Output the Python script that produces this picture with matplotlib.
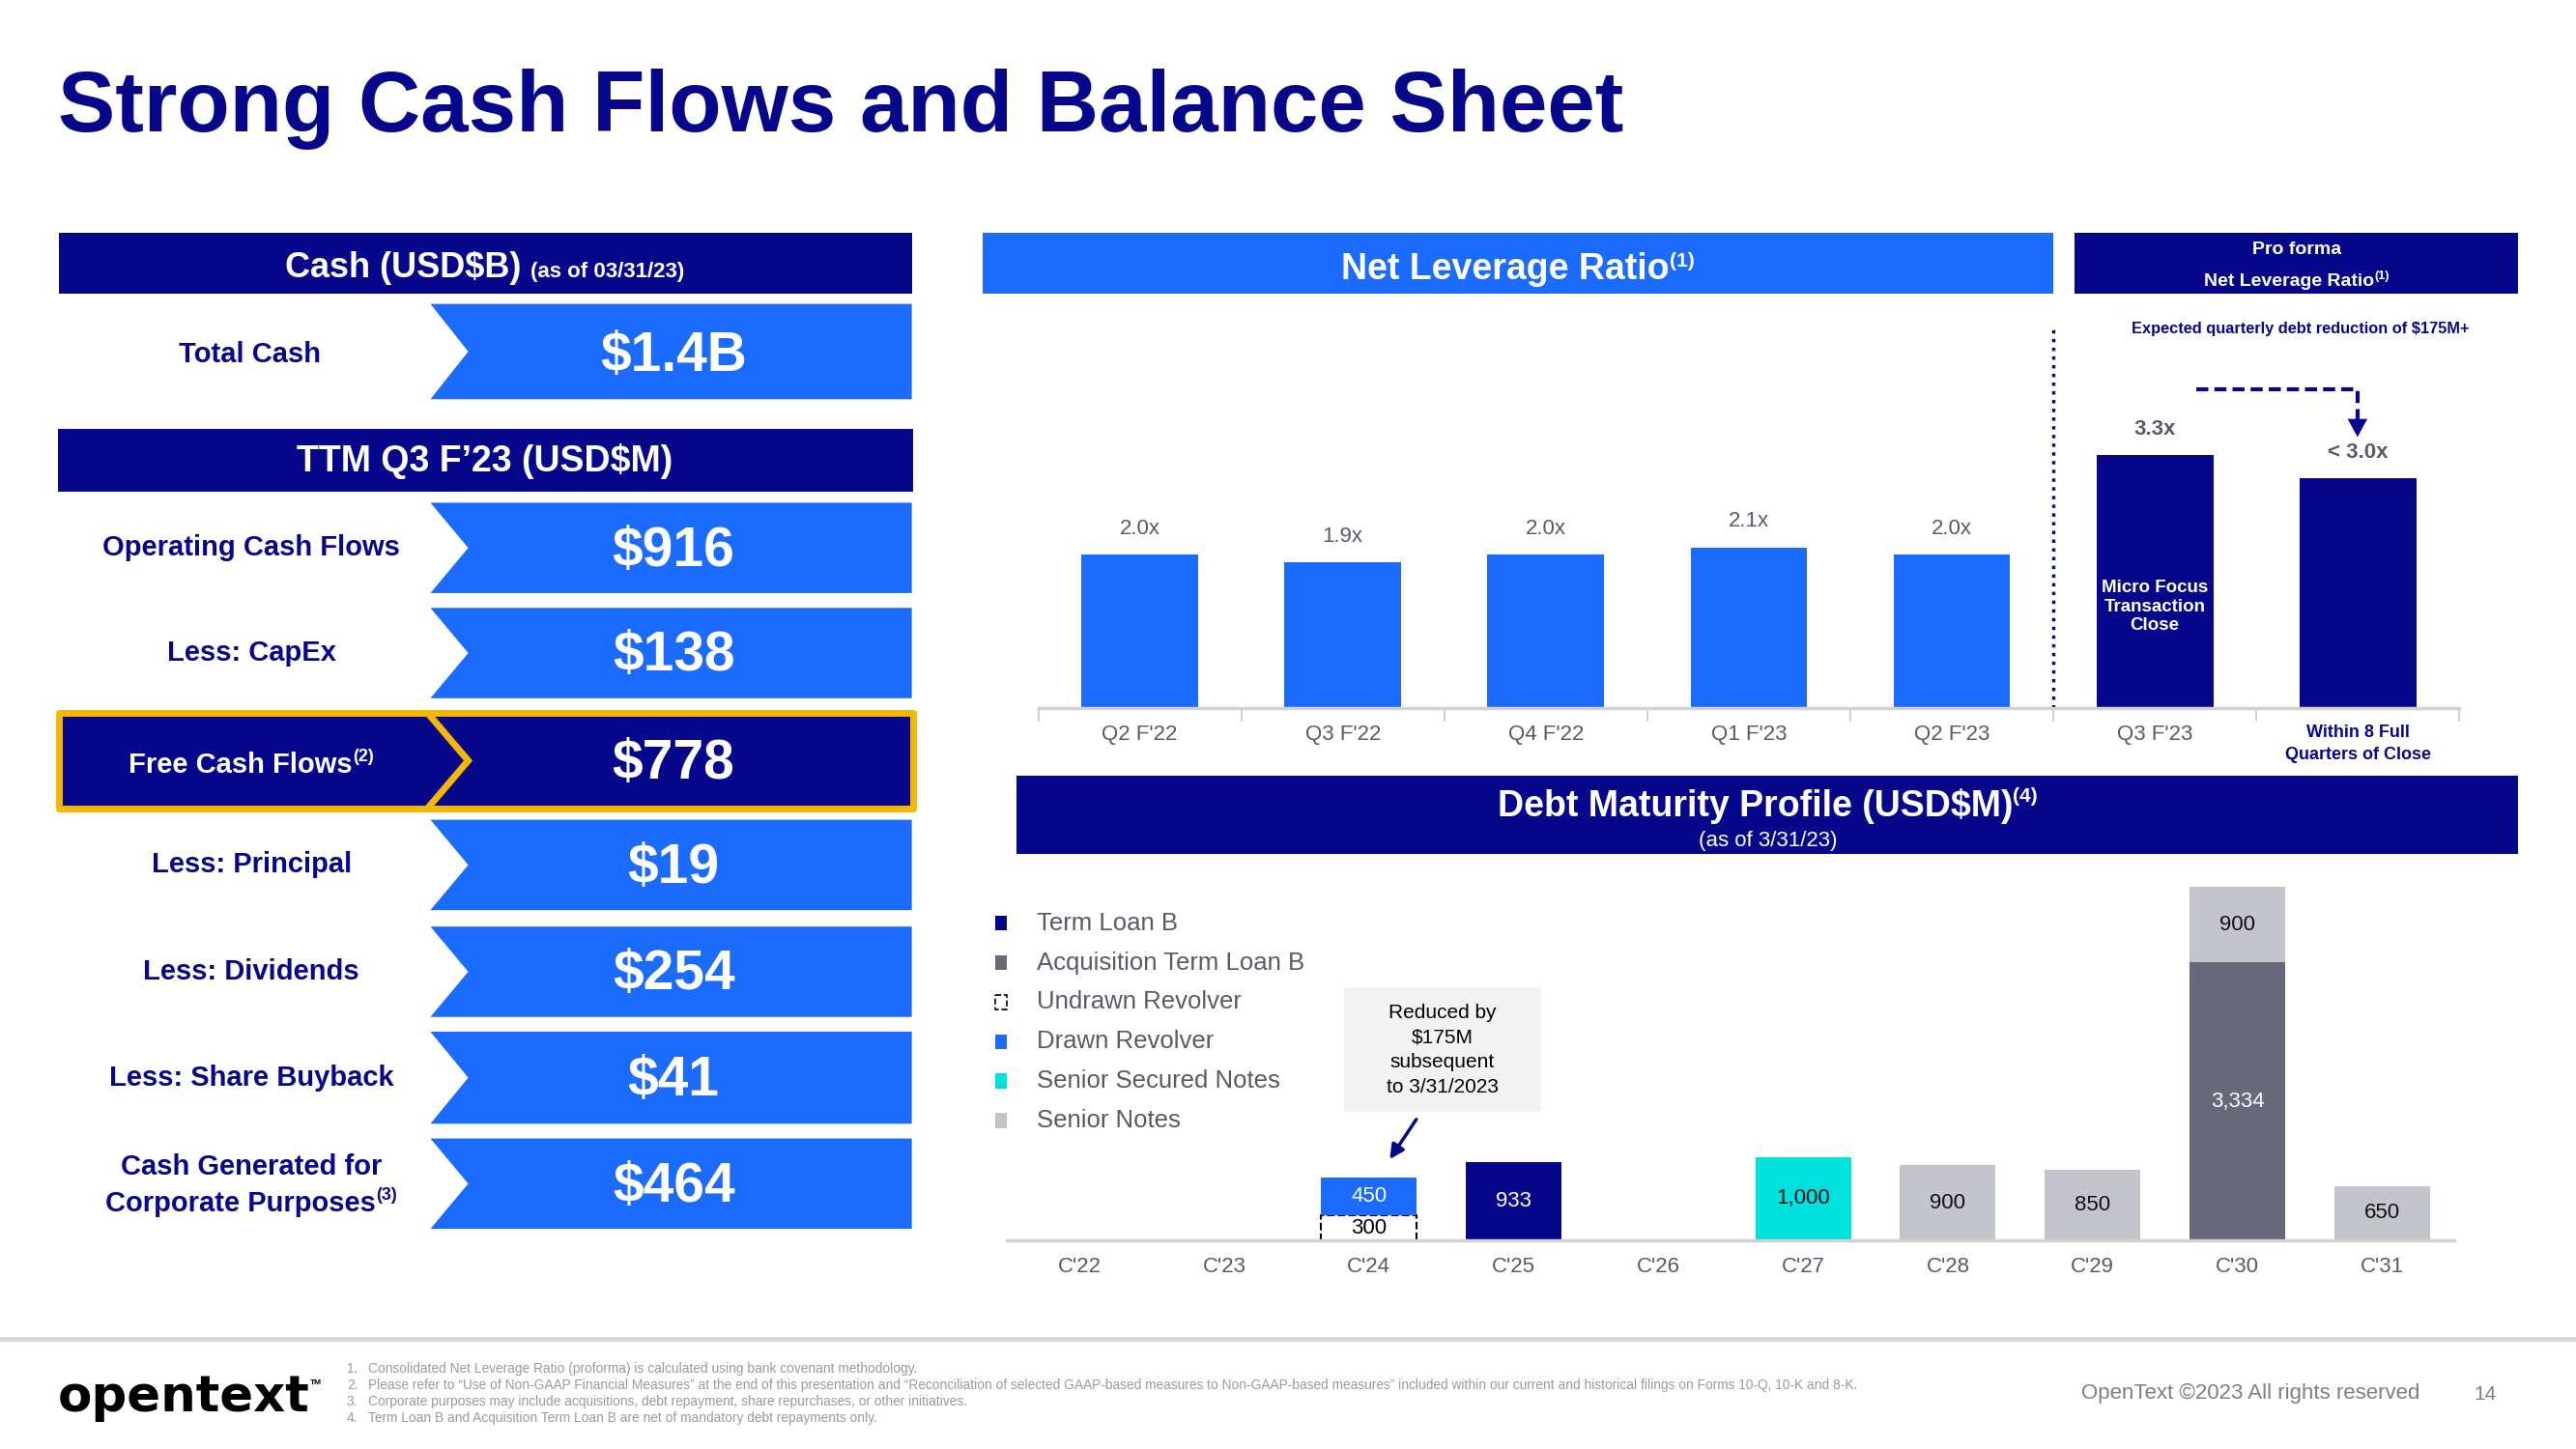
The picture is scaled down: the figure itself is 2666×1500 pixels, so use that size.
import matplotlib
matplotlib.use("Agg")
import matplotlib.pyplot as plt
import numpy as np
from matplotlib.patches import Polygon, Rectangle

plt.rcParams['font.family'] = ['Liberation Sans', 'DejaVu Sans']
plt.rcParams['text.parse_math'] = False

NAVY = '#07078C'
BLUE = '#1B6BFF'
GOLD = '#F5B800'
CYAN = '#00E1DD'
SLATE = '#676879'
LGREY = '#C4C4CD'
TXT_GREY = '#5A5A66'
AXIS_GREY = '#D2D2D2'

# ---------------- data ----------------
cash_label = "Total Cash"
cash_value = "$1.4B"

flow_labels = ["Operating Cash Flows", "Less: CapEx", "Free Cash Flows", "Less: Principal",
               "Less: Dividends", "Less: Share Buyback", "Cash Generated for\nCorporate Purposes"]
flow_notes = ["", "", "(2)", "", "", "", "(3)"]
flow_values = [916, 138, 778, 19, 254, 41, 464]

lev_quarters = ["Q2 F'22", "Q3 F'22", "Q4 F'22", "Q1 F'23", "Q2 F'23", "Q3 F'23",
                "Within 8 Full\nQuarters of Close"]
lev_ratio = [2.0, 1.9, 2.0, 2.1, 2.0, 3.3, 3.0]
lev_labels = ["2.0x", "1.9x", "2.0x", "2.1x", "2.0x", "3.3x", "< 3.0x"]
n_hist = 5

years = ["C'22", "C'23", "C'24", "C'25", "C'26", "C'27", "C'28", "C'29", "C'30", "C'31"]
undrawn_revolver = [0, 0, 300, 0, 0, 0, 0, 0, 0, 0]
drawn_revolver = [0, 0, 450, 0, 0, 0, 0, 0, 0, 0]
term_loan_b = [0, 0, 0, 933, 0, 0, 0, 0, 0, 0]
acq_term_loan_b = [0, 0, 0, 0, 0, 0, 0, 0, 3334, 0]
senior_secured = [0, 0, 0, 0, 0, 1000, 0, 0, 0, 0]
senior_notes = [0, 0, 0, 0, 0, 0, 900, 850, 900, 650]

footnotes = [
    "Consolidated Net Leverage Ratio (proforma) is calculated using bank covenant methodology.",
    "Please refer to \u201cUse of Non-GAAP Financial Measures\u201d at the end of this presentation and \u201cReconciliation of selected GAAP-based measures to Non-GAAP-based measures\u201d included within our current and historical filings on Forms 10-Q, 10-K and 8-K.",
    "Corporate purposes may include acquisitions, debt repayment, share repurchases, or other initiatives.",
    "Term Loan B and Acquisition Term Loan B are net of mandatory debt repayments only.",
]

# ---------------- figure ----------------
W, H = 1568, 882
PX = 2666 / W
fig = plt.figure(figsize=(26.66, 15), dpi=100)
ax0 = fig.add_axes([0, 0, 1, 1])
ax0.set_xlim(0, W)
ax0.set_ylim(H, 0)
ax0.axis('off')
renderer = fig.canvas.get_renderer()


def frac(x0, y0, x1, y1):
    return [x0 / W, 1 - y1 / H, (x1 - x0) / W, (y1 - y0) / H]


def runs(parts, x, y, color, ha='center'):
    # parts: (text, size, weight, rise) placed side by side on one baseline
    objs = []
    for s, size, weight, rise in parts:
        t = ax0.text(0, y, s, fontsize=size, fontweight=weight, color=color,
                     va='baseline', ha='left')
        objs.append((t, rise))
    widths = [t.get_window_extent(renderer).width / PX for t, _ in objs]
    cur = x - sum(widths) / 2 if ha == 'center' else x
    for (t, rise), w in zip(objs, widths):
        t.set_position((cur, y - rise))
        cur += w


def box(x0, y0, x1, y1, color):
    ax0.add_patch(Rectangle((x0, y0), x1 - x0, y1 - y0, facecolor=color, edgecolor='none'))


def chevron_row(top, bot, color):
    mid = (top + bot) / 2
    ax0.add_patch(Polygon([(262, top), (555, top), (555, bot), (262, bot), (285, mid)],
                          closed=True, facecolor=color, edgecolor='none'))


# title
ax0.text(35, 80, "Strong Cash Flows and Balance Sheet", fontsize=64, fontweight='bold',
         color=NAVY, va='baseline', ha='left')

# ---------------- left panel ----------------
box(36, 142, 555, 179, NAVY)
runs([("Cash (USD$B) ", 26, 'bold', 0), ("(as of 03/31/23)", 16, 'bold', 0)], 295, 169, 'white')
chevron_row(185, 243, BLUE)
ax0.text(152, 216, cash_label, fontsize=21, fontweight='bold', color=NAVY, ha='center', va='center')
ax0.text(410, 217, cash_value, fontsize=41, fontweight='bold', color='white', ha='center',
         va='center')

box(35, 261, 556, 299, NAVY)
ax0.text(295, 281, "TTM Q3 F\u201923 (USD$M)", fontsize=27, fontweight='bold', color='white',
         ha='center', va='center')

flow_rows = [(306, 361), (370, 425), (436, 490), (499, 554), (564, 619), (628, 684), (693, 748)]
for i, (lab, note, val) in enumerate(zip(flow_labels, flow_notes, flow_values)):
    top, bot = flow_rows[i]
    mid = (top + bot) / 2
    highlight = (i == 2)
    if highlight:
        ax0.add_patch(Rectangle((36, 434), 520, 58, facecolor=NAVY, edgecolor=GOLD,
                                linewidth=5, joinstyle='round'))
        ax0.plot([262, 285, 262], [436, 463, 490], color=GOLD, lw=5, solid_joinstyle='miter')
        lab_col = 'white'
    else:
        chevron_row(top, bot, BLUE)
        lab_col = NAVY
    lines = lab.split("\n")
    if len(lines) == 1:
        if note:
            runs([(lines[0], 21, 'bold', 0), (note, 13, 'bold', 7)], 153, mid + 7.5, lab_col)
        else:
            ax0.text(153, mid, lines[0], fontsize=21, fontweight='bold', color=lab_col,
                     ha='center', va='center')
    else:
        ax0.text(153, mid - 10, lines[0], fontsize=21, fontweight='bold', color=lab_col,
                 ha='center', va='center')
        runs([(lines[1], 21, 'bold', 0), (note, 13, 'bold', 7)], 153, mid + 17, lab_col)
    ax0.text(410, mid + 2, f"${val}", fontsize=41, fontweight='bold', color='white',
             ha='center', va='center')

# ---------------- net leverage ratio ----------------
box(598, 142, 1250, 179, BLUE)
runs([("Net Leverage Ratio", 27, 'bold', 0), ("(1)", 15, 'bold', 8)], 924, 170, 'white')
box(1263, 142, 1533, 179, NAVY)
ax0.text(1398, 152, "Pro forma", fontsize=14, fontweight='bold', color='white', ha='center', va='center')
runs([("Net Leverage Ratio", 14, 'bold', 0), ("(1)", 9, 'bold', 4)], 1398, 174, 'white')

axL = fig.add_axes(frac(632, 198, 1497, 431))
axL.patch.set_alpha(0)
xs = np.arange(len(lev_ratio))
bar_cols = [BLUE] * n_hist + [NAVY] * (len(lev_ratio) - n_hist)
bars = axL.bar(xs, lev_ratio, width=0.575, color=bar_cols)
axL.set_xlim(-0.5, len(lev_ratio) - 0.5)
axL.set_ylim(0, 5.0)
for s in ['top', 'left', 'right']:
    axL.spines[s].set_visible(False)
axL.spines['bottom'].set_color(AXIS_GREY)
axL.spines['bottom'].set_linewidth(2.5)
axL.set_yticks([])
axL.set_xticks(xs, lev_quarters)
axL.set_xticks(np.arange(-0.5, len(lev_ratio), 1), minor=True)
axL.tick_params(axis='x', which='major', length=0, pad=12, labelsize=16, labelcolor=TXT_GREY)
axL.tick_params(axis='x', which='minor', length=10, width=1.5, color=AXIS_GREY)
last = axL.get_xticklabels()[-1]
last.set_fontsize(13)
last.set_fontweight('bold')
last.set_color(NAVY)
last.set_linespacing(1.45)
for i, (b, lab) in enumerate(zip(bars, lev_labels)):
    axL.annotate(lab, (b.get_x() + b.get_width() / 2, b.get_height()), xytext=(0, 19.6),
                 textcoords='offset points', ha='center', va='center', fontsize=16,
                 color=TXT_GREY, fontweight='bold' if i >= n_hist else 'normal')
axL.axvline(n_hist - 0.5, color=NAVY, ls=(0, (1, 1.6)), lw=2.5)
axL.text(n_hist, lev_ratio[n_hist] * 0.4, "Micro Focus\nTransaction\nClose", fontsize=13.5,
         fontweight='bold', color='white', ha='center', va='center', linespacing=1.2)

ax0.text(1400, 200, "Expected quarterly debt reduction of $175M+", fontsize=11.8,
         fontweight='bold', color=NAVY, ha='center', va='center')
ax0.plot([1337, 1435, 1435], [237, 237, 256], color=NAVY, lw=3, ls=(0, (3, 1.5)))
ax0.add_patch(Polygon([(1429, 255), (1441, 255), (1435, 266)], closed=True,
                      facecolor=NAVY, edgecolor='none'))

# ---------------- debt maturity ----------------
box(619, 472, 1533, 520, NAVY)
runs([("Debt Maturity Profile (USD$M)", 27, 'bold', 0), ("(4)", 15, 'bold', 9)], 1076, 497, 'white')
ax0.text(1076, 512, "(as of 3/31/23)", fontsize=16, color='white', ha='center', va='center')

axD = fig.add_axes(frac(613, 530, 1494, 755))
axD.patch.set_alpha(0)
xd = np.arange(len(years))
series = [
    (undrawn_revolver, 'white', 'black', '--', 'black'),
    (drawn_revolver, BLUE, 'none', '-', 'white'),
    (term_loan_b, NAVY, 'none', '-', 'white'),
    (acq_term_loan_b, SLATE, 'none', '-', 'white'),
    (senior_secured, CYAN, 'none', '-', '#111111'),
    (senior_notes, LGREY, 'none', '-', '#111111'),
]
bottom = np.zeros(len(years))
for vals, fc, ec, ls, tc in series:
    idx = [i for i, v in enumerate(vals) if v]
    hv = [vals[i] for i in idx]
    bt = [bottom[i] for i in idx]
    axD.bar(idx, hv, width=0.66, bottom=bt, color=fc, edgecolor=ec, linestyle=ls,
            linewidth=1.5 if ec != 'none' else 0)
    for i, v, b in zip(idx, hv, bt):
        axD.text(i, b + v / 2, f"{v:,}", ha='center', va='center', fontsize=16, color=tc)
    bottom += np.array(vals)
axD.set_xlim(-0.5, len(years) - 0.5)
axD.set_ylim(0, 4430)
for s in ['top', 'left', 'right']:
    axD.spines[s].set_visible(False)
axD.spines['bottom'].set_color(AXIS_GREY)
axD.spines['bottom'].set_linewidth(2.5)
axD.set_yticks([])
axD.set_xticks(xd, years)
axD.tick_params(axis='x', length=0, pad=12, labelsize=16, labelcolor=TXT_GREY)

legend_items = [("Term Loan B", NAVY, 'none'), ("Acquisition Term Loan B", SLATE, 'none'),
                ("Undrawn Revolver", 'white', 'black'), ("Drawn Revolver", BLUE, 'none'),
                ("Senior Secured Notes", CYAN, 'none'), ("Senior Notes", LGREY, 'none')]
for k, (name, fc, ec) in enumerate(legend_items):
    yy = 562 + 24 * k
    ax0.add_patch(Rectangle((606, yy - 4.5), 7, 9, facecolor=fc, edgecolor=ec,
                            linestyle='--' if ec != 'none' else '-', linewidth=1.2))
    ax0.text(631, yy, name, fontsize=18.5, color=TXT_GREY, ha='left', va='center')

box(818, 601, 938, 677, '#F2F2F2')
ax0.text(878, 639, "Reduced by\n$175M\nsubsequent\nto 3/31/2023", fontsize=15, color='black',
         ha='center', va='center', linespacing=1.45)
ax0.annotate("", xy=(845, 707), xytext=(863, 680),
             arrowprops=dict(arrowstyle='-|>', color=NAVY, lw=2.5, mutation_scale=22))

# ---------------- footer ----------------
ax0.plot([0, W], [815, 815], color='#D9D9D9', lw=3.5)
ax0.text(35, 851, "opentext", fontsize=37, fontweight='bold', color='black', ha='left',
         va='center', family='DejaVu Sans')
ax0.text(189, 842, "TM", fontsize=6, fontweight='bold', color='black', ha='left', va='center')
for k, note in enumerate(footnotes):
    yy = 833 + 10 * k
    ax0.text(211, yy, f"{k + 1}.", fontsize=9.9, color='#9A9A9A', ha='left', va='center')
    ax0.text(224, yy, note, fontsize=9.9, color='#9A9A9A', ha='left', va='center')
ax0.text(1267, 848, "OpenText \u00a92023 All rights reserved", fontsize=16, color='#7F7F7F',
         ha='left', va='center')
ax0.text(1513, 849, "14", fontsize=15, color='#7F7F7F', ha='center', va='center')

fig.savefig("out.png", dpi=100)
